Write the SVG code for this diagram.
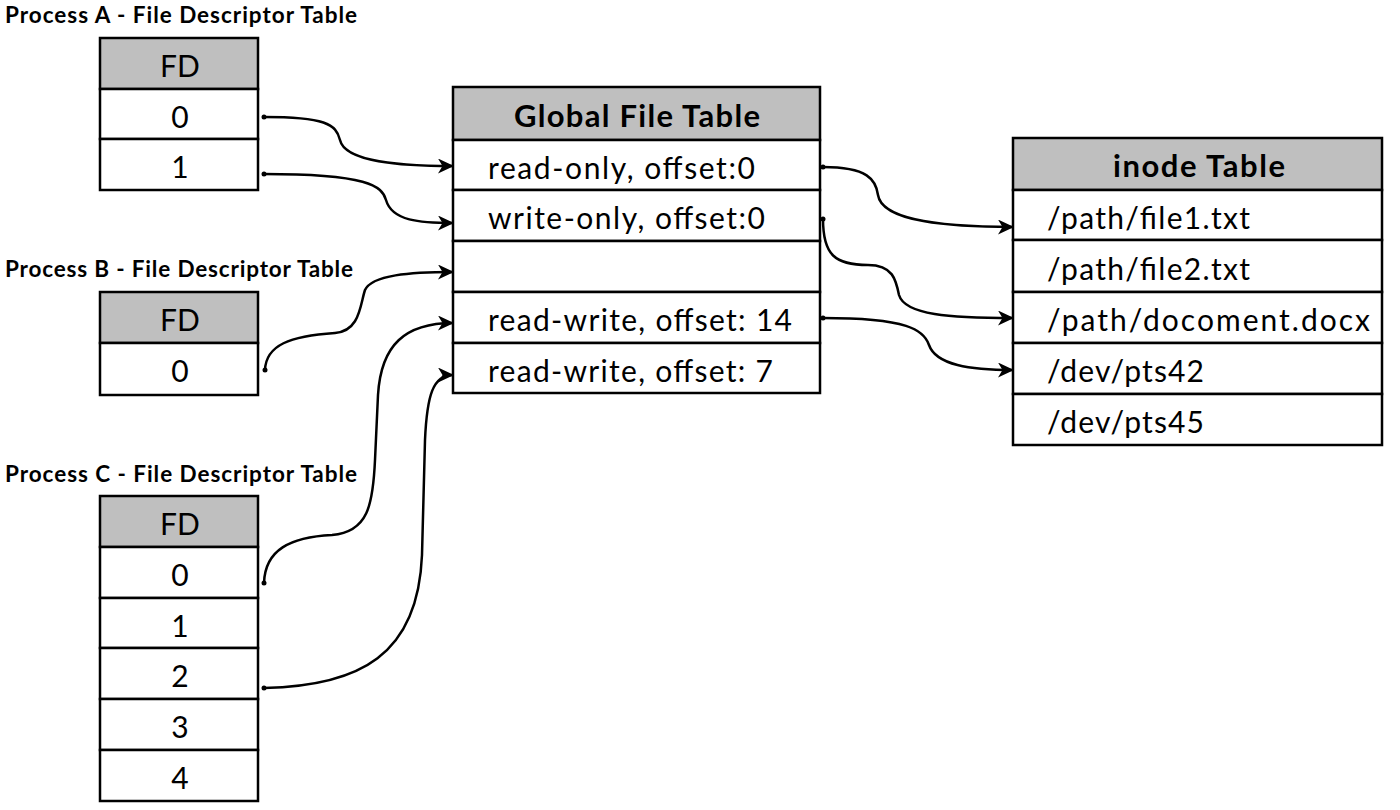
<svg xmlns="http://www.w3.org/2000/svg" width="1400" height="810" viewBox="0 0 1400 810">
<defs>
<style>
.title{font-family:Lato,"Liberation Sans",sans-serif;font-weight:bold;font-size:22.5px;fill:#000}
.hdr{font-family:Lato,"Liberation Sans",sans-serif;font-weight:bold;font-size:31px;fill:#000}
.cell{font-family:Lato,"Liberation Sans",sans-serif;font-size:30px;fill:#000}
.fd{font-family:Lato,"Liberation Sans",sans-serif;font-size:30px;fill:#000;text-anchor:middle}
.h{fill:#bfbfbf;stroke:#000;stroke-width:2.5}
.r{fill:#fff;stroke:#000;stroke-width:2.5}
.c{fill:none;stroke:#000;stroke-width:2.5;marker-end:url(#ah)}
.dot{fill:#000}
</style>
<marker id="ah" markerUnits="userSpaceOnUse" markerWidth="17" markerHeight="15" refX="15" refY="7.5" orient="auto">
<path d="M0,0 L16,7.5 L0,15 L4.5,7.5 z" fill="#000"/>
</marker>
</defs>
<rect width="1400" height="810" fill="#fff"/>

<g id="procA">
<text class="title" x="5" y="23" textLength="352">Process A - File Descriptor Table</text>
<rect class="h" x="100" y="38" width="158" height="51"/>
<rect class="r" x="100" y="89" width="158" height="50"/>
<rect class="r" x="100" y="139" width="158" height="51"/>
<text class="fd" x="180" y="77">FD</text>
<text class="fd" x="180" y="128">0</text>
<text class="fd" x="180" y="178">1</text>
</g>

<g id="procB">
<text class="title" x="5" y="277" textLength="348">Process B - File Descriptor Table</text>
<rect class="h" x="100" y="292" width="158" height="51"/>
<rect class="r" x="100" y="343" width="158" height="52"/>
<text class="fd" x="180" y="331">FD</text>
<text class="fd" x="180" y="382">0</text>
</g>

<g id="procC">
<text class="title" x="5" y="482" textLength="352">Process C - File Descriptor Table</text>
<rect class="h" x="100" y="496" width="158" height="51"/>
<rect class="r" x="100" y="547" width="158" height="51"/>
<rect class="r" x="100" y="598" width="158" height="50"/>
<rect class="r" x="100" y="648" width="158" height="51"/>
<rect class="r" x="100" y="699" width="158" height="51"/>
<rect class="r" x="100" y="750" width="158" height="51"/>
<text class="fd" x="180" y="535">FD</text>
<text class="fd" x="180" y="586">0</text>
<text class="fd" x="180" y="637">1</text>
<text class="fd" x="180" y="687">2</text>
<text class="fd" x="180" y="738">3</text>
<text class="fd" x="180" y="789">4</text>
</g>

<g id="globalFileTable">
<rect class="h" x="453" y="87" width="367" height="53"/>
<rect class="r" x="453" y="140" width="367" height="50"/>
<rect class="r" x="453" y="190" width="367" height="51"/>
<rect class="r" x="453" y="241" width="367" height="51"/>
<rect class="r" x="453" y="292" width="367" height="51"/>
<rect class="r" x="453" y="343" width="367" height="50"/>
<text class="hdr" x="514" y="127" textLength="246">Global File Table</text>
<text class="cell" x="488" y="179" textLength="267">read-only, offset:0</text>
<text class="cell" x="488" y="229" textLength="277">write-only, offset:0</text>
<text class="cell" x="488" y="331" textLength="304">read-write, offset: 14</text>
<text class="cell" x="488" y="382" textLength="285">read-write, offset: 7</text>
</g>

<g id="inodeTable">
<rect class="h" x="1013" y="138" width="369" height="52"/>
<rect class="r" x="1013" y="190" width="369" height="50"/>
<rect class="r" x="1013" y="240" width="369" height="52"/>
<rect class="r" x="1013" y="292" width="369" height="51"/>
<rect class="r" x="1013" y="343" width="369" height="51"/>
<rect class="r" x="1013" y="394" width="369" height="51"/>
<text class="hdr" x="1113" y="177" textLength="172">inode Table</text>
<text class="cell" x="1047" y="229" textLength="203">/path/file1.txt</text>
<text class="cell" x="1047" y="280" textLength="203">/path/file2.txt</text>
<text class="cell" x="1047" y="331" textLength="323">/path/docoment.docx</text>
<text class="cell" x="1047" y="382" textLength="157">/dev/pts42</text>
<text class="cell" x="1047" y="433" textLength="157">/dev/pts45</text>
</g>

<g id="connectors">
<path class="c" d="M264,117 C325,117 336,124 340,140 C345,162 400,166 453,166"/>
<path class="c" d="M264,174 C368,174 382,186 386,200 C392,221 420,223 453,223"/>
<path class="c" d="M265,370 C266,345 290,336 335,333 C360,331 360,305 365,290 C372,275 410,272 453,272"/>
<path class="c" d="M264,583 C265,550 290,537 332,535 C368,532 373,505 375,460 L378,395 C381,345 405,323 453,323"/>
<path class="c" d="M264,688 C360,686 418,655 422,555 L425,440 C427,395 433,375 453,375"/>
<path class="c" d="M823,167 C868,167 876,180 878,195 C882,222 950,227 1013,227"/>
<path class="c" d="M823,219 C823,255 835,265 868,265 C893,265 896,280 899,295 C905,315 950,318 1013,318"/>
<path class="c" d="M823,318 C908,318 924,330 929,345 C936,365 970,370 1013,370"/>
<circle class="dot" cx="264" cy="117" r="2.5"/>
<circle class="dot" cx="264" cy="174" r="2.5"/>
<circle class="dot" cx="265" cy="370" r="2.5"/>
<circle class="dot" cx="264" cy="583" r="2.5"/>
<circle class="dot" cx="264" cy="688" r="2.5"/>
<circle class="dot" cx="823" cy="167" r="2.5"/>
<circle class="dot" cx="823" cy="219" r="2.5"/>
<circle class="dot" cx="823" cy="318" r="2.5"/>
</g>
</svg>
